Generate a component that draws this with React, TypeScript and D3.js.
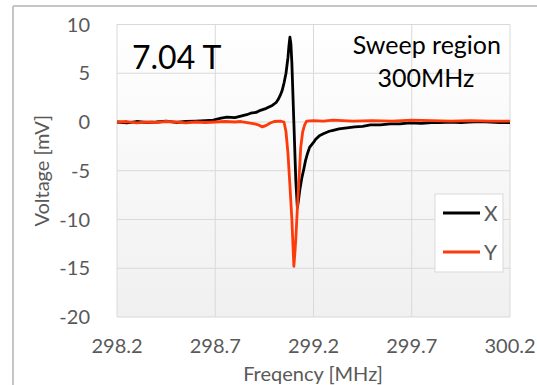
import React from 'react'
import * as d3 from 'd3'

// X channel (black) – frequency [MHz] and voltage [mV]
const xFreq = [
  298.2, 298.25, 298.3, 298.35, 298.4, 298.45, 298.5, 298.55, 298.6, 298.65, 298.69,
  298.73, 298.76, 298.8, 298.83, 298.86, 298.88, 298.91, 298.93, 298.96, 298.99,
  299.01, 299.02, 299.03, 299.04, 299.05, 299.06, 299.07, 299.075, 299.08, 299.085,
  299.09, 299.1, 299.11, 299.118, 299.125, 299.13, 299.14, 299.15, 299.16, 299.17,
  299.18, 299.2, 299.21, 299.23, 299.25, 299.28, 299.3, 299.33, 299.37, 299.41,
  299.45, 299.49, 299.54, 299.59, 299.64, 299.69, 299.75, 299.8, 299.84, 299.9,
  299.95, 299.99, 300.05, 300.1, 300.15, 300.2,
]
const xVolt = [
  0.0, -0.1, 0.05, -0.05, 0.0, 0.1, -0.05, 0.05, 0.1, 0.15, 0.2,
  0.4, 0.5, 0.45, 0.6, 0.75, 0.9, 1.0, 1.2, 1.4, 1.7,
  2.0, 2.3, 2.7, 3.2, 4.0, 5.0, 6.6, 7.8, 8.7, 8.0,
  6.0, 0.0, -6.0, -8.8, -7.8, -7.0, -5.8, -4.9, -3.9, -3.2,
  -2.6, -2.1, -1.8, -1.4, -1.2, -0.95, -0.85, -0.7, -0.6, -0.5,
  -0.45, -0.3, -0.3, -0.2, -0.2, -0.1, -0.15, -0.05, -0.05, 0.0,
  -0.05, 0.0, 0.05, 0.0, -0.05, -0.05,
]

// Y channel (red)
const yFreq = [
  298.2, 298.25, 298.3, 298.35, 298.4, 298.45, 298.5, 298.55, 298.6, 298.65, 298.7,
  298.75, 298.8, 298.83, 298.87, 298.9, 298.92, 298.94, 298.96, 298.98, 299.0,
  299.03, 299.05, 299.06, 299.07, 299.08, 299.09, 299.1, 299.105, 299.11, 299.12,
  299.13, 299.135, 299.145, 299.155, 299.165, 299.2, 299.25, 299.3, 299.35, 299.4,
  299.5, 299.6, 299.7, 299.8, 299.9, 300.0, 300.1, 300.2,
]
const yVolt = [
  0.0, 0.05, -0.1, 0.0, -0.05, 0.05, 0.0, -0.1, 0.0, -0.05, 0.0,
  0.05, 0.0, 0.05, -0.1, -0.2, -0.3, -0.5, -0.35, -0.1, 0.05,
  0.1, 0.0, -1.0, -3.2, -6.5, -10.0, -14.8, -13.5, -12.0, -8.0,
  -4.5, -2.6, -1.0, -0.3, 0.1, 0.15, 0.1, 0.2, 0.15, 0.1,
  0.15, 0.1, 0.2, 0.15, 0.1, 0.15, 0.1, 0.1,
]

const xTicks = [298.2, 298.7, 299.2, 299.7, 300.2]
const yTicks = [10, 5, 0, -5, -10, -15, -20]
const seriesNames = ['X', 'Y']
const seriesColors = ['#000000', '#ff3a0a']

const W = 537
const H = 385
const plot = { left: 117, right: 510, top: 24.5, bottom: 317 }
const font = 'Lato, "Open Sans", sans-serif'
const gray = '#595959'

export default function App() {
  const x = d3.scaleLinear().domain([298.2, 300.2]).range([plot.left, plot.right])
  const y = d3.scaleLinear().domain([-20, 10]).range([plot.bottom, plot.top])

  const lineGen = d3
    .line<[number, number]>()
    .x((d) => x(d[0]))
    .y((d) => y(d[1]))

  const xPath = lineGen(xFreq.map((f, i) => [f, xVolt[i]]))
  const yPath = lineGen(yFreq.map((f, i) => [f, yVolt[i]]))

  return (
    <div style={{ position: 'absolute', left: 0, top: 0 }}>
      <svg width={W} height={H} style={{ display: 'block', background: '#fff' }}>
        <defs>
          <linearGradient id="plotBg" x1="0" y1="0" x2="0" y2="1">
            <stop offset="0%" stopColor="#ffffff" />
            <stop offset="100%" stopColor="#f0f0f0" />
          </linearGradient>
        </defs>
        {/* outer frame */}
        <line x1={13} y1={6} x2={W} y2={6} stroke="#c6c6c6" strokeWidth={2} />
        <line x1={13} y1={6} x2={13} y2={H} stroke="#c6c6c6" strokeWidth={2} />

        <rect
          x={plot.left}
          y={plot.top}
          width={plot.right - plot.left}
          height={plot.bottom - plot.top}
          fill="url(#plotBg)"
        />
        {yTicks.map((t) => (
          <line key={'gy' + t} x1={plot.left} x2={plot.right} y1={y(t)} y2={y(t)} stroke="#d9d9d9" strokeWidth={1} />
        ))}
        {xTicks.map((t) => (
          <line key={'gx' + t} x1={x(t)} x2={x(t)} y1={plot.top} y2={plot.bottom} stroke="#d9d9d9" strokeWidth={1} />
        ))}

        {yTicks.map((t) => (
          <text key={'ty' + t} x={90} y={y(t)} dy="0.36em" textAnchor="end" fontFamily={font} fontSize={20} fill={gray}>
            {t}
          </text>
        ))}
        {xTicks.map((t) => (
          <text key={'tx' + t} x={x(t)} y={353} textAnchor="middle" fontFamily={font} fontSize={20} fill={gray}>
            {t.toFixed(1)}
          </text>
        ))}

        <text x={313} y={381} textAnchor="middle" fontFamily={font} fontSize={20} fill={gray}>
          Freqency [MHz]
        </text>
        <text
          transform={`translate(49,${(plot.top + plot.bottom) / 2}) rotate(-90)`}
          textAnchor="middle"
          fontFamily={font}
          fontSize={20}
          fill={gray}
        >
          Voltage [mV]
        </text>

        <path d={xPath ?? ''} fill="none" stroke={seriesColors[0]} strokeWidth={2.8} strokeLinejoin="round" />
        <path d={yPath ?? ''} fill="none" stroke={seriesColors[1]} strokeWidth={2.8} strokeLinejoin="round" />

        <text x={132} y={69} fontFamily={font} fontSize={32} fill="#000">
          7.04 T
        </text>
        <text x={501} y={54} textAnchor="end" fontFamily={font} fontSize={25} fill="#000">
          Sweep region
        </text>
        <text x={426} y={87} textAnchor="middle" fontFamily={font} fontSize={25} fill="#000">
          300MHz
        </text>

        {/* legend */}
        <rect x={435} y={194} width={68} height={78} fill="#fff" stroke="#d9d9d9" strokeWidth={1} />
        {seriesNames.map((n, i) => (
          <g key={n} transform={`translate(0,${213 + i * 39})`}>
            <line x1={443} x2={480} y1={0} y2={0} stroke={seriesColors[i]} strokeWidth={2.8} />
            <text x={484} y={0} dy="0.36em" fontFamily={font} fontSize={21} fill={gray}>
              {n}
            </text>
          </g>
        ))}
      </svg>
    </div>
  )
}
